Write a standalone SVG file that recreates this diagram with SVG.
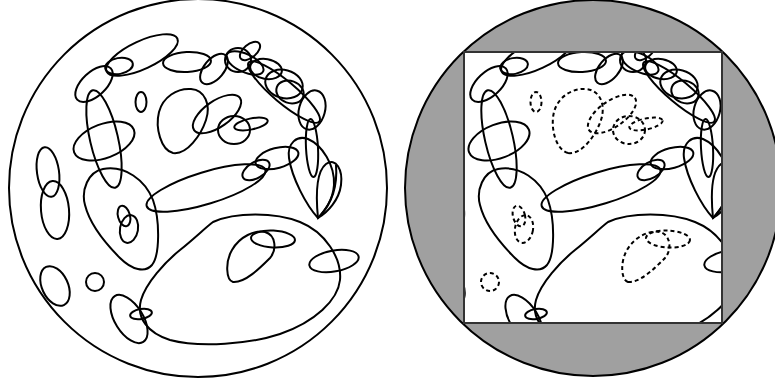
<svg xmlns="http://www.w3.org/2000/svg" xmlns:xlink="http://www.w3.org/1999/xlink" width="775" height="383" viewBox="0 0 775 383">
<style>
.s{fill:none;stroke:#000;stroke-width:2}
</style>
<defs>
<clipPath id="clipR"><rect x="464" y="52" width="258" height="271"/></clipPath>
<g id="solid" class="s">
<ellipse cx="94" cy="84" rx="23" ry="12" transform="rotate(-43 94 84)"/>
<ellipse cx="119" cy="66" rx="14" ry="8" transform="rotate(-10 119 66)"/>
<ellipse cx="142" cy="55" rx="39" ry="14" transform="rotate(-25 142 55)"/>
<ellipse cx="187" cy="62" rx="24" ry="10" transform="rotate(-3 187 62)"/>
<ellipse cx="214" cy="69" rx="18" ry="10" transform="rotate(-50 214 69)"/>
<ellipse cx="238" cy="60" rx="13" ry="12"/>
<ellipse cx="250" cy="51" rx="12" ry="6.5" transform="rotate(-40 250 51)"/>
<ellipse cx="245" cy="63" rx="20" ry="9" transform="rotate(25 245 63)"/>
<ellipse cx="266" cy="69" rx="16" ry="10" transform="rotate(10 266 69)"/>
<ellipse cx="284" cy="84" rx="19" ry="14" transform="rotate(15 284 84)"/>
<ellipse cx="290" cy="92" rx="14" ry="11" transform="rotate(20 290 92)"/>
<ellipse cx="284" cy="92" rx="46" ry="11" transform="rotate(40 284 92)"/>
<ellipse cx="312" cy="110" rx="13" ry="20" transform="rotate(15 312 110)"/>
<ellipse cx="312" cy="148" rx="6" ry="29" transform="rotate(-3 312 148)"/>
<path d="M318,218 C306,205 292,178 289,158 C287,143 297,135 308,139 C322,145 335,165 334,185 C333,200 325,210 318,218 Z"/>
<path d="M318,218 C316,198 316,172 326,164 C336,157 343,170 341,185 C339,200 328,212 318,218 Z"/>
<path d="M320,216 C330,205 338,190 336,165"/>
<ellipse cx="104" cy="139" rx="14" ry="50" transform="rotate(-13 104 139)"/>
<ellipse cx="104" cy="141" rx="32" ry="17" transform="rotate(-21 104 141)"/>
<path d="M103,169 C125,165 145,180 153,200 C160,220 160,255 152,265 C145,273 132,270 120,258 C105,243 90,225 85,205 C81,190 88,172 103,169 Z"/>
<ellipse cx="48" cy="172" rx="11" ry="25" transform="rotate(-8 48 172)"/>
<ellipse cx="55" cy="210" rx="14" ry="29" transform="rotate(-5 55 210)"/>
<ellipse cx="55" cy="286" rx="13" ry="21" transform="rotate(-25 55 286)"/>
<ellipse cx="129" cy="319" rx="27" ry="14" transform="rotate(58 129 319)"/>
<ellipse cx="141" cy="314" rx="11" ry="5" transform="rotate(-10 141 314)"/>
<path d="M213,222 C235,212 275,212 300,222 C325,232 342,258 340,280 C338,300 315,322 280,334 C250,344 200,348 170,340 C148,333 136,318 141,300 C146,283 165,262 180,250 C195,238 205,228 213,222 Z"/>
<ellipse cx="206" cy="188" rx="62" ry="16" transform="rotate(-17 206 188)"/>
<ellipse cx="256" cy="170" rx="15" ry="8" transform="rotate(-30 256 170)"/>
<ellipse cx="277" cy="158" rx="22" ry="10" transform="rotate(-15 277 158)"/>
<ellipse cx="334" cy="261" rx="25" ry="10.5" transform="rotate(-10 334 261)"/>
</g>
<g id="dashed" class="s">
<ellipse cx="141" cy="102" rx="5.5" ry="10"/>
<path d="M173,153 C161,150 155,128 159,112 C163,97 177,88 191,89 C205,90 211,105 206,120 C201,135 187,155 173,153 Z"/>
<ellipse cx="217" cy="114" rx="28" ry="13" transform="rotate(-35 217 114)"/>
<ellipse cx="234" cy="130" rx="16" ry="14"/>
<ellipse cx="251" cy="124" rx="17" ry="5.5" transform="rotate(-12 251 124)"/>
<ellipse cx="124" cy="216" rx="6" ry="10.5" transform="rotate(-15 124 216)"/>
<ellipse cx="129" cy="229" rx="9" ry="14" transform="rotate(10 129 229)"/>
<circle cx="95" cy="282" r="9"/>
<path d="M233,282 C226,280 225,262 232,250 C240,236 255,230 265,232 C276,235 277,250 270,258 C260,268 245,283 233,282 Z"/>
<ellipse cx="273" cy="239" rx="22" ry="8.5" transform="rotate(3 273 239)"/>
</g>
</defs>
<rect width="775" height="383" fill="#fff"/>
<g id="left-panel">
<circle cx="198" cy="188" r="189" fill="#fff" stroke="#000" stroke-width="2"/>
<use xlink:href="#solid"/>
<use xlink:href="#dashed"/>
</g>
<g id="right-panel">
<circle cx="593" cy="188" r="188" fill="#a0a0a0" stroke="#000" stroke-width="2"/>
<rect x="464" y="52" width="258" height="271" fill="#fff"/>
<g clip-path="url(#clipR)">
<g transform="translate(395,0)">
<use xlink:href="#solid"/>
<use xlink:href="#dashed" stroke-dasharray="4 3"/>
</g>
</g>
<rect x="464" y="52" width="258" height="271" fill="none" stroke="#333" stroke-width="2"/>
</g>
</svg>
